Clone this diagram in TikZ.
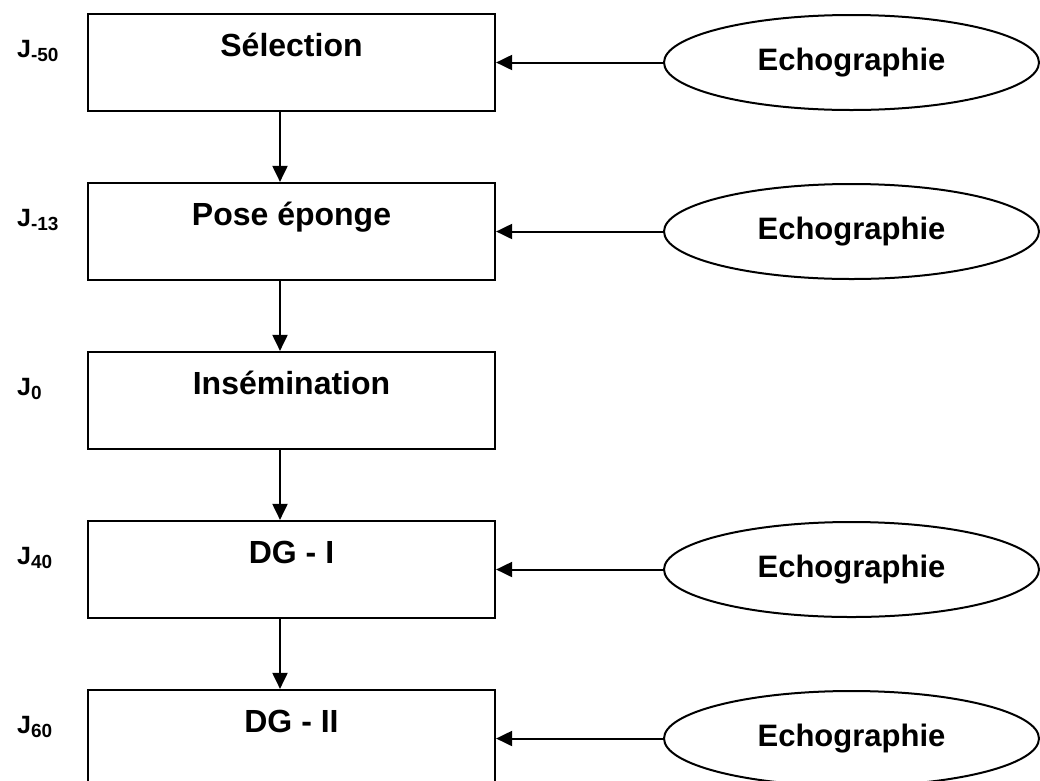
\documentclass[tikz,border=0pt]{standalone}
\usepackage{fontspec}
\setmainfont{Liberation Sans}
\usetikzlibrary{arrows.meta,shapes.geometric}
\begin{document}
\begin{tikzpicture}[x=1pt,y=-1pt,
  stage/.style={draw, line width=2.2pt, minimum width=407pt, minimum height=97pt, inner sep=0pt},
  stagetext/.style={font=\fontsize{32}{37}\selectfont\bfseries, anchor=base, inner sep=0pt},
  echo/.style={ellipse, draw, line width=2pt, minimum width=375pt, minimum height=95pt, inner sep=0pt, font=\fontsize{31}{36}\selectfont\bfseries},
  day/.style={anchor=base west, font=\fontsize{25}{30}\selectfont\bfseries, inner sep=0pt},
  flow/.style={line width=2pt, -{Triangle[length=16pt,width=15pt]}},
]
\newcommand{\sbs}[1]{\raisebox{-4pt}{\fontsize{19}{22}\selectfont #1}}
\useasboundingbox (0,0) rectangle (1040,780);
\clip (0,0) rectangle (1040,780);

% stage boxes
\node[stage] (b1) at (291.5,62.5) {};
\node[stage] (b2) at (291.5,231.5) {};
\node[stage] (b3) at (291.5,400.5) {};
\node[stage] (b4) at (291.5,569.5) {};
\node[stage] (b5) at (291.5,738.5) {};

% stage texts
\node[stagetext] (t1) at ([yshift=-44pt]b1.north) {Sélection};
\node[stagetext] (t2) at ([yshift=-44pt]b2.north) {Pose éponge};
\node[stagetext] (t3) at ([yshift=-44pt]b3.north) {Insémination};
\node[stagetext] (t4) at ([yshift=-44pt]b4.north) {DG - I};
\node[stagetext] (t5) at ([yshift=-44pt]b5.north) {DG - II};

% day labels
\node[day] (d1) at (17,57) {J\sbs{-50}};
\node[day] (d2) at (17,226) {J\sbs{-13}};
\node[day] (d3) at (17,395) {J\sbs{0}};
\node[day] (d4) at (17,564) {J\sbs{40}};
\node[day] (d5) at (17,733) {J\sbs{60}};

% echographie ellipses
\node[echo] (e1) at (851.5,62.5) {Echographie};
\node[echo] (e2) at (851.5,231.5) {Echographie};
\node[echo] (e4) at (851.5,569.5) {Echographie};
\node[echo] (e5) at (851.5,738.5) {Echographie};

% connectors
\draw[flow] (e1.west) -- (b1.east);
\draw[flow] (e2.west) -- (b2.east);
\draw[flow] (e4.west) -- (b4.east);
\draw[flow] (e5.west) -- (b5.east);

\draw[flow] ([xshift=-11.5pt]b1.south) -- ([xshift=-11.5pt]b2.north);
\draw[flow] ([xshift=-11.5pt]b2.south) -- ([xshift=-11.5pt]b3.north);
\draw[flow] ([xshift=-11.5pt]b3.south) -- ([xshift=-11.5pt]b4.north);
\draw[flow] ([xshift=-11.5pt]b4.south) -- ([xshift=-11.5pt]b5.north);
\end{tikzpicture}
\end{document}
